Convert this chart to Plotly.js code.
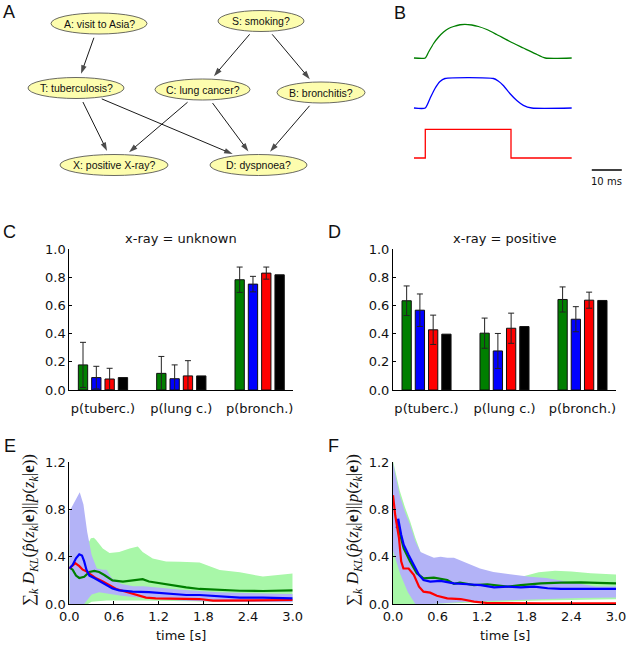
<!DOCTYPE html>
<html><head><meta charset="utf-8">
<script src="https://cdn.plot.ly/plotly-3.0.1.min.js"></script>
<style>html,body{margin:0;padding:0;background:#fff}#g{width:628px;height:650px}</style>
</head><body><div id="g"></div>
<script>
// ---------- Panel A: Bayesian network ----------
const nodeLabels = ['A: visit to Asia?','S: smoking?','T: tuberculosis?','C: lung cancer?','B: bronchitis?','X: positive X-ray?','D: dyspnoea?'];
const nodeX = [99, 261, 76, 202.5, 321, 114, 258.5];
const nodeY = [23.5, 21, 88, 89.5, 92.5, 165, 165];
const edgeFrom = [0, 1, 1, 2, 2, 3, 3, 4];
const edgeTo   = [2, 3, 4, 5, 6, 5, 6, 6];

// ---------- Panel B: pulse shapes (ms, amplitude) ----------
const tGreenB = [-3.77, 0, 1.1, 2.77, 4.43, 6.1, 7.77, 9.43, 11.6, 13.2, 15.5, 17.7, 20.5, 23.8, 28.2, 32.7, 36.6, 40, 48.8];
const vGreenB = [0, 0, 0.12, 0.29, 0.42, 0.52, 0.59, 0.63, 0.665, 0.674, 0.66, 0.63, 0.57, 0.47, 0.33, 0.2, 0.088, 0, 0];
const tBlueB  = [-3.77, 0, 1.57, 3.23, 4.9, 6.57, 22.7, 24.3, 26, 28.2, 30.5, 32.7, 35.5, 48.8];
const vBlueB  = [0, 0, 0.19, 0.39, 0.53, 0.59, 0.59, 0.54, 0.45, 0.29, 0.15, 0.054, 0, 0];
const tRedB   = [-3.77, 0, 0, 28.57, 28.57, 48.8];
const vRedB   = [0, 0, 0.574, 0.574, 0, 0];
const scaleBarMs = [55.5, 65.5];

// ---------- Panels C, D: marginals ----------
const categories = ['p(tuberc.)', 'p(lung c.)', 'p(bronch.)'];
const C_green = [0.178, 0.118, 0.782], C_greenErr = [0.16, 0.12, 0.09];
const C_blue  = [0.088, 0.080, 0.751], C_blueErr  = [0.08, 0.098, 0.055];
const C_red   = [0.078, 0.100, 0.829], C_redErr   = [0.076, 0.108, 0.043];
const C_black = [0.088, 0.100, 0.817];
const D_green = [0.633, 0.403, 0.642], D_greenErr = [0.105, 0.107, 0.089];
const D_blue  = [0.566, 0.277, 0.502], D_blueErr  = [0.115, 0.124, 0.089];
const D_red   = [0.427, 0.438, 0.637], D_redErr   = [0.104, 0.107, 0.057];
const D_black = [0.396, 0.450, 0.635];

// ---------- Panel E ----------
const E_tBandBlueUp = [0, 0.05, 0.1, 0.14, 0.19, 0.24, 0.3, 0.37, 0.45, 0.5, 0.57, 0.7, 0.86, 1.0, 1.5, 2.0, 2.5, 3.0];
const E_vBandBlueUp = [0.78, 0.84, 0.9, 0.945, 0.84, 0.61, 0.415, 0.30, 0.29, 0.29, 0.22, 0.17, 0.15, 0.15, 0.12, 0.10, 0.09, 0.085];
const E_tBandBlueLo = [0, 0.2, 0.25, 0.3, 0.4, 0.5, 0.7, 1.0, 1.5, 2.0, 3.0];
const E_vBandBlueLo = [0, 0, 0.04, 0.08, 0.1, 0.09, 0.07, 0.05, 0.03, 0.02, 0.015];
const E_tBandGreenUp = [0, 0.2, 0.25, 0.29, 0.33, 0.36, 0.45, 0.54, 0.67, 0.81, 0.92, 0.985, 1.12, 1.3, 1.49, 1.75, 2.02, 2.29, 2.6, 2.83, 3.0];
const E_vBandGreenUp = [0.5, 0.5, 0.51, 0.555, 0.56, 0.54, 0.47, 0.43, 0.44, 0.47, 0.485, 0.44, 0.385, 0.36, 0.357, 0.35, 0.287, 0.268, 0.232, 0.245, 0.258];
const E_tBandGreenLo = [0, 0.25, 0.3, 0.5, 1.0, 2.0, 3.0];
const E_vBandGreenLo = [0, 0, 0.02, 0.03, 0.03, 0.02, 0.02];
const E_tGreen = [0, 0.045, 0.09, 0.134, 0.2, 0.27, 0.336, 0.4, 0.47, 0.58, 0.72, 0.85, 0.985, 1.07, 1.25, 1.43, 1.57, 1.75, 2.02, 2.29, 2.6, 3.0];
const E_vGreen = [0.31, 0.29, 0.24, 0.22, 0.23, 0.27, 0.28, 0.27, 0.245, 0.2, 0.19, 0.2, 0.21, 0.19, 0.17, 0.155, 0.14, 0.127, 0.118, 0.112, 0.11, 0.115];
const E_tBlue = [0, 0.045, 0.09, 0.134, 0.17, 0.2, 0.23, 0.27, 0.34, 0.4, 0.49, 0.58, 0.67, 0.85, 1.07, 1.3, 1.57, 1.75, 2.02, 2.29, 2.6, 3.0];
const E_vBlue = [0.30, 0.33, 0.386, 0.42, 0.41, 0.36, 0.29, 0.24, 0.217, 0.194, 0.16, 0.132, 0.115, 0.104, 0.1, 0.09, 0.076, 0.076, 0.062, 0.054, 0.054, 0.048];
const E_tRed = [0, 0.045, 0.08, 0.134, 0.18, 0.22, 0.29, 0.36, 0.45, 0.54, 0.63, 0.76, 0.9, 1.03, 1.16, 1.39, 1.57, 1.75, 1.93, 2.38, 3.0];
const E_vRed = [0.30, 0.33, 0.345, 0.32, 0.29, 0.28, 0.245, 0.217, 0.19, 0.155, 0.127, 0.104, 0.076, 0.054, 0.048, 0.048, 0.048, 0.042, 0.028, 0.028, 0.034];

// ---------- Panel F ----------
const F_tBandBlueUp = [0, 0.05, 0.09, 0.16, 0.23, 0.3, 0.37, 0.46, 0.55, 0.64, 0.73, 0.82, 0.9, 1.04, 1.17, 1.35, 1.62, 1.84, 2.06, 2.33, 2.51, 2.73, 3.0];
const F_vBandBlueUp = [1.19, 1.04, 0.92, 0.78, 0.67, 0.53, 0.44, 0.415, 0.39, 0.40, 0.39, 0.39, 0.37, 0.33, 0.30, 0.27, 0.246, 0.23, 0.22, 0.19, 0.175, 0.147, 0.147];
const F_tBandBlueLo = [0, 0.1, 0.2, 0.3, 0.5, 1.0, 1.5, 2.0, 2.5, 3.0];
const F_vBandBlueLo = [0.45, 0.25, 0.1, 0, 0, 0.02, 0.03, 0.04, 0.05, 0.055];
const F_tBandGreenUp = [0, 0.05, 0.09, 0.16, 0.23, 0.3, 0.37, 0.5, 1.0, 1.5, 1.73, 1.96, 2.18, 2.4, 2.66, 3.0];
const F_vBandGreenUp = [1.21, 1.08, 0.96, 0.82, 0.7, 0.56, 0.44, 0.35, 0.3, 0.24, 0.23, 0.268, 0.28, 0.275, 0.26, 0.25];
const F_tBandGreenLo = [0, 0.5, 1.0, 2.0, 3.0];
const F_vBandGreenLo = [0, 0, 0.01, 0.03, 0.04];
const F_tRed = [0, 0.03, 0.08, 0.11, 0.14, 0.21, 0.28, 0.35, 0.41, 0.5, 0.59, 0.73, 0.91, 1.09, 1.27, 1.62, 2.0, 2.5, 3.0];
const F_vRed = [0.92, 0.75, 0.56, 0.36, 0.30, 0.30, 0.246, 0.147, 0.104, 0.096, 0.07, 0.048, 0.042, 0.02, 0.008, 0.005, 0.005, 0.005, 0.005];
const F_tBlue = [0.05, 0.07, 0.11, 0.144, 0.21, 0.28, 0.35, 0.41, 0.5, 0.64, 0.82, 1.0, 1.18, 1.36, 1.54, 1.72, 1.9, 2.08, 2.26, 2.53, 3.0];
const F_vBlue = [0.64, 0.72, 0.585, 0.5, 0.415, 0.33, 0.246, 0.203, 0.19, 0.195, 0.175, 0.167, 0.16, 0.14, 0.147, 0.14, 0.147, 0.133, 0.127, 0.127, 0.127];
const F_tGreen = [0.05, 0.1, 0.144, 0.23, 0.32, 0.41, 0.55, 0.73, 0.82, 0.9, 1.09, 1.27, 1.54, 1.72, 1.99, 2.26, 2.53, 2.75, 3.0];
const F_vGreen = [0.7, 0.58, 0.47, 0.36, 0.26, 0.217, 0.223, 0.203, 0.17, 0.18, 0.16, 0.167, 0.147, 0.16, 0.175, 0.18, 0.183, 0.178, 0.175];

// ================= drawing =================
const W = 628, H = 650;
const fx = p => p / W, fy = p => 1 - p / H;
const FONT = 'DejaVu Sans';
const GREEN = '#007f00', BLUE = '#0000ff', RED = '#ff0000';
const GBAND = '#a8f7a8', BBAND = '#b3b3f7';
const nodeRx = [48, 43, 48, 47.5, 44, 54, 48.5], nodeRy = 10.5;

const traces = [];
const shapes = [];
const ann = [];

// Panel A
nodeX.forEach((cx, i) => {
  shapes.push({type: 'circle', xref: 'x', yref: 'y', x0: cx - nodeRx[i], x1: cx + nodeRx[i],
    y0: nodeY[i] - nodeRy, y1: nodeY[i] + nodeRy, fillcolor: '#fdfdae', line: {color: '#444', width: 0.8}});
  ann.push({xref: 'x', yref: 'y', x: cx, y: nodeY[i], text: nodeLabels[i], showarrow: false,
    font: {family: 'Liberation Sans', size: 10.5, color: '#111'}});
});
const gap = 4;
edgeFrom.forEach((a, k) => {
  const b = edgeTo[k];
  const dx = nodeX[b] - nodeX[a], dy = nodeY[b] - nodeY[a];
  const L = Math.hypot(dx, dy), ux = dx / L, uy = dy / L;
  const sa = 1 / Math.hypot(dx / nodeRx[a], dy / nodeRy);
  const sb = 1 / Math.hypot(dx / nodeRx[b], dy / nodeRy);
  const x0 = nodeX[a] + sa * dx + gap * ux, y0 = nodeY[a] + sa * dy + gap * uy;
  const x1 = nodeX[b] - sb * dx - gap * ux, y1 = nodeY[b] - sb * dy - gap * uy;
  traces.push({x: [x0, x1], y: [y0, y1], xaxis: 'x', yaxis: 'y', mode: 'lines+markers', showlegend: false, hoverinfo: 'skip',
    line: {color: '#000', width: 0.9},
    marker: {symbol: ['circle', 'arrow'], size: [0, 9], angleref: 'previous', color: '#000', line: {width: 0}}});
});

// Panel B
const offB = {red: 0, blue: 1, green: 2};
traces.push({x: tGreenB, y: vGreenB.map(v => v + offB.green), xaxis: 'x2', yaxis: 'y2', mode: 'lines', line: {color: GREEN, width: 1.3, shape: 'spline', smoothing: 0.6}, showlegend: false});
traces.push({x: tBlueB, y: vBlueB.map(v => v + offB.blue), xaxis: 'x2', yaxis: 'y2', mode: 'lines', line: {color: BLUE, width: 1.3, shape: 'spline', smoothing: 0.6}, showlegend: false});
traces.push({x: tRedB, y: vRedB.map(v => v + offB.red), xaxis: 'x2', yaxis: 'y2', mode: 'lines', line: {color: RED, width: 1.3}, showlegend: false});
traces.push({x: scaleBarMs, y: [-0.24, -0.24], xaxis: 'x2', yaxis: 'y2', mode: 'lines', line: {color: '#000', width: 1.5}, showlegend: false});
ann.push({xref: 'x2', yref: 'y2', x: (scaleBarMs[0] + scaleBarMs[1]) / 2, y: -0.47, text: '10 ms', showarrow: false, xanchor: 'center', font: {family: FONT, size: 10, color: '#111'}});

// Panels C, D
function bars(vals, err, color, xa, ya) {
  const t = {type: 'bar', x: categories, y: vals, xaxis: xa, yaxis: ya, showlegend: false,
    marker: {color: color, line: {color: '#111', width: 1}}};
  if (err) t.error_y = {type: 'data', array: err, visible: true, color: '#222', thickness: 1, width: 3};
  return t;
}
traces.push(bars(C_green, C_greenErr, GREEN, 'x3', 'y3'));
traces.push(bars(C_blue, C_blueErr, BLUE, 'x3', 'y3'));
traces.push(bars(C_red, C_redErr, RED, 'x3', 'y3'));
traces.push(bars(C_black, null, '#000', 'x3', 'y3'));
traces.push(bars(D_green, D_greenErr, GREEN, 'x4', 'y4'));
traces.push(bars(D_blue, D_blueErr, BLUE, 'x4', 'y4'));
traces.push(bars(D_red, D_redErr, RED, 'x4', 'y4'));
traces.push(bars(D_black, null, '#000', 'x4', 'y4'));

// Panels E, F
function band(tu, vu, tl, vl, color, xa, ya) {
  return {x: tu.concat(tl.slice().reverse()), y: vu.concat(vl.slice().reverse()), xaxis: xa, yaxis: ya,
    mode: 'lines', fill: 'toself', fillcolor: color, line: {width: 0, color: color}, hoverinfo: 'skip', showlegend: false};
}
function line(t, v, color, xa, ya) {
  return {x: t, y: v, xaxis: xa, yaxis: ya, mode: 'lines', line: {color: color, width: 2.2}, showlegend: false};
}
traces.push(band(E_tBandGreenUp, E_vBandGreenUp, E_tBandGreenLo, E_vBandGreenLo, GBAND, 'x5', 'y5'));
traces.push(band(E_tBandBlueUp, E_vBandBlueUp, E_tBandBlueLo, E_vBandBlueLo, BBAND, 'x5', 'y5'));
traces.push(line(E_tGreen, E_vGreen, GREEN, 'x5', 'y5'));
traces.push(line(E_tRed, E_vRed, RED, 'x5', 'y5'));
traces.push(line(E_tBlue, E_vBlue, BLUE, 'x5', 'y5'));
traces.push(band(F_tBandGreenUp, F_vBandGreenUp, F_tBandGreenLo, F_vBandGreenLo, GBAND, 'x6', 'y6'));
traces.push(band(F_tBandBlueUp, F_vBandBlueUp, F_tBandBlueLo, F_vBandBlueLo, BBAND, 'x6', 'y6'));
traces.push(line(F_tGreen, F_vGreen, GREEN, 'x6', 'y6'));
traces.push(line(F_tBlue, F_vBlue, BLUE, 'x6', 'y6'));
traces.push(line(F_tRed, F_vRed, RED, 'x6', 'y6'));

// Panel letters
[['A', 9, 12], ['B', 400, 13], ['C', 9, 232], ['D', 334, 232], ['E', 10, 446], ['F', 333, 446]].forEach(([t, x, y]) =>
  ann.push({xref: 'paper', yref: 'paper', x: fx(x), y: fy(y), text: t, showarrow: false, xanchor: 'center', yanchor: 'middle',
    font: {family: 'Liberation Sans', size: 18, color: '#111'}}));
// subplot titles
ann.push({xref: 'paper', yref: 'paper', x: fx(181), y: fy(238), text: 'x-ray = unknown', showarrow: false, xanchor: 'center', yanchor: 'middle', font: {family: FONT, size: 13, color: '#111'}});
ann.push({xref: 'paper', yref: 'paper', x: fx(504.5), y: fy(238), text: 'x-ray = positive', showarrow: false, xanchor: 'center', yanchor: 'middle', font: {family: FONT, size: 13, color: '#111'}});
// E/F axis titles
const ytitle = '∑<sub><i>k</i></sub> <i>D</i><sub><i>KL</i></sub>(<i>p̂</i>(<i>z</i><sub><i>k</i></sub>|<b>e</b>)||<i>p</i>(<i>z</i><sub><i>k</i></sub>|<b>e</b>))';
[[30, 181], [354, 504.5]].forEach(([yx, cx]) => {
  ann.push({xref: 'paper', yref: 'paper', x: fx(yx), y: fy(530), text: ytitle, textangle: -90, showarrow: false, xanchor: 'center', yanchor: 'middle',
    font: {family: 'Liberation Serif', size: 17, color: '#111'}});
  ann.push({xref: 'paper', yref: 'paper', x: fx(cx), y: fy(635), text: 'time [s]', showarrow: false, xanchor: 'center', yanchor: 'middle',
    font: {family: FONT, size: 13, color: '#111'}});
});

const hidden = {visible: false, showgrid: false, zeroline: false, fixedrange: true};
const tickF = {family: FONT, size: 13, color: '#111'};
const yBar = {range: [0, 1], dtick: 0.2, tickformat: '.1f', showline: true, linecolor: '#000', linewidth: 1, ticks: 'inside', ticklen: 3, tickcolor: '#000',
  showgrid: false, zeroline: false, tickfont: tickF, domain: [fy(390), fy(249)]};
const xBar = {type: 'category', range: [-0.43, 2.426], showline: true, linecolor: '#000', linewidth: 1, ticks: '', showgrid: false, zeroline: false,
  tickfont: tickF, ticklabelstandoff: 6};
const xLine = {range: [0, 3], dtick: 0.6, tickformat: '.1f', showline: true, linecolor: '#000', linewidth: 1, ticks: 'inside', ticklen: 3, tickcolor: '#000',
  showgrid: false, zeroline: false, tickfont: tickF};
const yLine = {range: [0, 1.2], dtick: 0.4, tickformat: '.1f', showline: true, linecolor: '#000', linewidth: 1, ticks: 'inside', ticklen: 3, tickcolor: '#000',
  showgrid: false, zeroline: false, tickfont: tickF, domain: [fy(604), fy(462)]};

const layout = {
  width: W, height: H, margin: {l: 0, r: 0, t: 0, b: 0}, paper_bgcolor: '#fff', plot_bgcolor: 'rgba(0,0,0,0)',
  showlegend: false, barmode: 'group', bargap: 0.32, bargroupgap: 0.3,
  xaxis: Object.assign({}, hidden, {domain: [0, fx(400)], range: [0, 400]}),
  yaxis: Object.assign({}, hidden, {domain: [fy(190), 1], range: [190, 0]}),
  xaxis2: Object.assign({}, hidden, {domain: [fx(400), 1], range: [-8.43, 67.57]}),
  yaxis2: Object.assign({}, hidden, {domain: [fy(190), 1], range: [-0.64, 3.16]}),
  xaxis3: Object.assign({}, xBar, {domain: [fx(69.3), fx(293)], anchor: 'y3'}),
  yaxis3: Object.assign({}, yBar, {anchor: 'x3'}),
  xaxis4: Object.assign({}, xBar, {domain: [fx(393), fx(615.7)], anchor: 'y4'}),
  yaxis4: Object.assign({}, yBar, {anchor: 'x4'}),
  xaxis5: Object.assign({}, xLine, {domain: [fx(69.3), fx(292.7)], anchor: 'y5'}),
  yaxis5: Object.assign({}, yLine, {anchor: 'x5'}),
  xaxis6: Object.assign({}, xLine, {domain: [fx(393), fx(616)], anchor: 'y6'}),
  yaxis6: Object.assign({}, yLine, {anchor: 'x6'}),
  shapes: shapes, annotations: ann
};
Plotly.newPlot('g', traces, layout, {displayModeBar: false, staticPlot: true});
</script></body></html>
